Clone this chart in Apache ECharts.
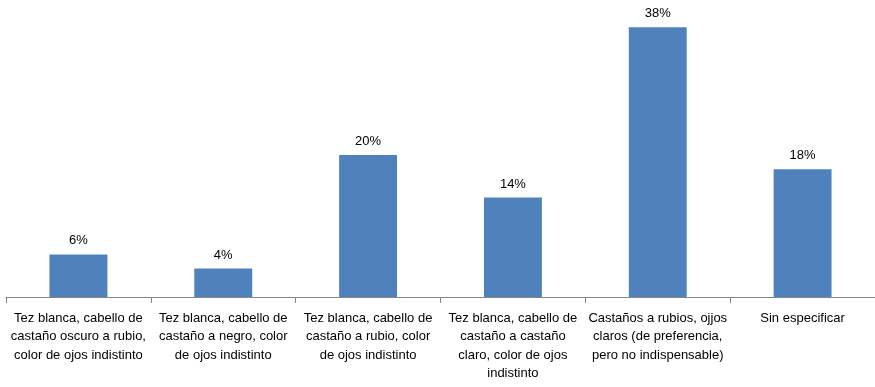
<!DOCTYPE html>
<html>
<head>
<meta charset="utf-8">
<script src="https://cdn.jsdelivr.net/npm/echarts@6/dist/echarts.min.js"></script>
<style>
  html, body { margin: 0; padding: 0; background: #fff; }
  #main { width: 875px; height: 387px; }
</style>
</head>
<body>
<div id="main"></div>
<script>
// categorias (con saltos de linea como en el original)
var categorias = [
    'Tez blanca, cabello de\ncastaño oscuro a rubio,\ncolor de ojos indistinto',
    'Tez blanca, cabello de\ncastaño a negro, color\nde ojos indistinto',
    'Tez blanca, cabello de\ncastaño a rubio, color\nde ojos indistinto',
    'Tez blanca, cabello de\ncastaño a castaño\nclaro, color de ojos\nindistinto',
    'Castaños a rubios, ojjos\nclaros (de preferencia,\npero no indispensable)',
    'Sin especificar'
];
var porcentajes = [6, 4, 20, 14, 38, 18];

var fuente = '"Liberation Sans", sans-serif';

var myChart = echarts.init(document.getElementById('main'));
var option = {
    animation: false,
    grid: { left: 6, right: 0, top: 13, bottom: 90 },
    xAxis: {
        type: 'category',
        data: categorias,
        axisLine: { show: true, lineStyle: { color: '#868686', width: 1 } },
        axisTick: { show: true, length: 6, lineStyle: { color: '#868686' } },
        axisLabel: {
            interval: 0,
            margin: 12,
            color: '#000',
            fontSize: 13,
            lineHeight: 18.5,
            fontFamily: fuente
        }
    },
    yAxis: {
        type: 'value',
        min: 0,
        max: 40,
        show: false,
        splitLine: { show: false }
    },
    series: [{
        type: 'bar',
        data: porcentajes,
        barWidth: '40%',
        itemStyle: { color: '#4F81BD' },
        label: {
            show: true,
            position: 'top',
            distance: 7,
            formatter: '{c}%',
            color: '#000',
            fontSize: 13,
            fontFamily: fuente
        }
    }]
};
myChart.setOption(option);
</script>
</body>
</html>
